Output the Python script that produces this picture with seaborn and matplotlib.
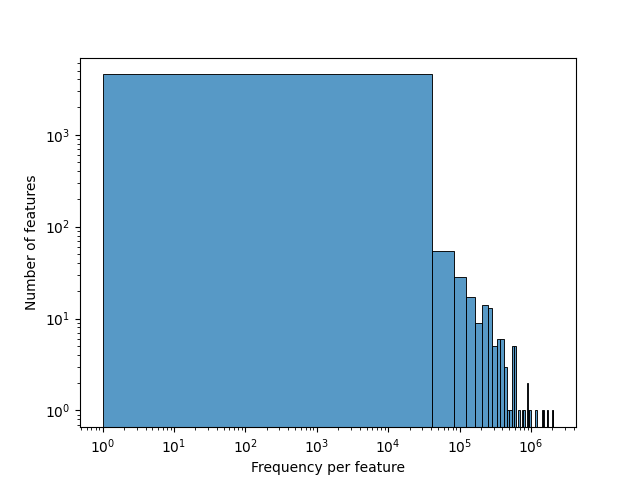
import numpy as np
import pandas as pd
import matplotlib
matplotlib.use('Agg')
import matplotlib.pyplot as plt
import seaborn as sns

# Histogram of feature frequencies: 50 linear bins from 1 to ~2.07e6,
# counts (bin index -> number of features)
freq_min = 1
freq_max = 2070001
n_bins = 50
bin_counts = [
    4540, 54, 28, 17, 9, 14, 13, 5, 6, 6,
    3, 1, 1, 5, 5, 0, 1, 0, 1, 1,
    0, 2, 1, 1, 0, 0, 0, 0, 1, 0,
    0, 0, 0, 0, 0, 1, 1, 0, 0, 0,
    1, 1, 0, 0, 0, 0, 0, 0, 1, 1,
]

edges = np.linspace(freq_min, freq_max, n_bins + 1)
centers = (edges[:-1] + edges[1:]) / 2
df = pd.DataFrame({'freq': centers, 'count': bin_counts})

fig, ax = plt.subplots(figsize=(6.4, 4.8), dpi=100)
sns.histplot(data=df, x='freq', weights='count', bins=n_bins,
             binrange=(freq_min, freq_max), ax=ax)
ax.set_xscale('log')
ax.set_yscale('log')
ax.set_xlabel('Frequency per feature')
ax.set_ylabel('Number of features')

plt.savefig('out.png')
plt.close()
